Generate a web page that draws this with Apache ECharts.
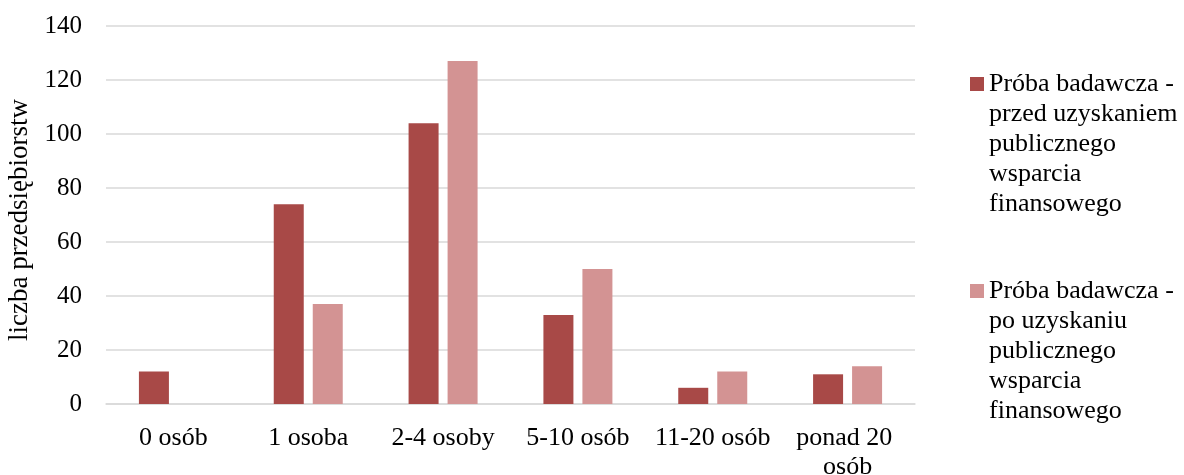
<!DOCTYPE html>
<html>
<head>
<meta charset="utf-8">
<script src="https://cdn.jsdelivr.net/npm/echarts@6/dist/echarts.min.js"></script>
<style>
  html, body { margin: 0; padding: 0; background: #ffffff; }
  #chart { width: 1184px; height: 475px; }
</style>
</head>
<body>
<div id="chart"></div>
<script>
// Firm size categories (number of employees)
const categories = ['0 osób', '1 osoba', '2-4 osoby', '5-10 osób', '11-20 osób', 'ponad 20 osób'];

// Number of enterprises before and after public financial support
const beforeSupport = [12, 74, 104, 33, 6, 11];
const afterSupport = [0, 37, 127, 50, 12, 14];

const seriesNames = [
  'Próba badawcza - przed uzyskaniem publicznego wsparcia finansowego',
  'Próba badawcza - po uzyskaniu publicznego wsparcia finansowego'
];

// Wrapped legend lines for each series
const legendLines = {
  [seriesNames[0]]: ['Próba badawcza -', 'przed uzyskaniem', 'publicznego', 'wsparcia', 'finansowego'],
  [seriesNames[1]]: ['Próba badawcza -', 'po uzyskaniu', 'publicznego', 'wsparcia', 'finansowego']
};

const yTicks = { min: 0, max: 140, interval: 20 };

const FONT = '"Liberation Serif", "Times New Roman", serif';
const TEXT_COLOR = '#000000';
const GRID_COLOR = '#d9d9d9';
const LINE_H = 30;

const chart = echarts.init(document.getElementById('chart'), null, { renderer: 'canvas' });

// The legend marker sits at the vertical middle of the text block; blank lines
// before the text put the marker level with the first line.
function legendFormatter(name) {
  const lines = legendLines[name];
  const pad = new Array(lines.length - 1).fill('');
  return pad.concat(lines).join('\n');
}

function legendFor(name, markerCenterY) {
  const lines = legendLines[name];
  const blockH = (lines.length * 2 - 1) * LINE_H;
  return {
    data: [name],
    left: 970,
    top: markerCenterY - blockH / 2,
    icon: 'rect',
    itemWidth: 14,
    itemHeight: 14,
    itemGap: 0,
    padding: 0,
    formatter: legendFormatter,
    textStyle: { fontFamily: FONT, fontSize: 26, lineHeight: LINE_H, color: TEXT_COLOR },
    selectedMode: false
  };
}

chart.setOption({
  backgroundColor: '#ffffff',
  animation: false,
  textStyle: { fontFamily: FONT },
  grid: { left: 106, right: 269, top: 26, bottom: 71, containLabel: false, outerBoundsMode: 'none' },
  legend: [legendFor(seriesNames[0], 84), legendFor(seriesNames[1], 291)],
  xAxis: {
    type: 'category',
    data: categories,
    axisLine: { show: true, lineStyle: { color: GRID_COLOR, width: 1.5 } },
    axisTick: { show: false },
    axisLabel: {
      fontFamily: FONT,
      fontSize: 26,
      lineHeight: 29,
      color: TEXT_COLOR,
      margin: 20,
      interval: 0,
      width: 132,
      overflow: 'break'
    }
  },
  yAxis: {
    type: 'value',
    min: yTicks.min,
    max: yTicks.max,
    interval: yTicks.interval,
    name: 'liczba przedsiębiorstw',
    nameLocation: 'middle',
    nameGap: 70,
    nameTextStyle: { fontFamily: FONT, fontSize: 27, color: TEXT_COLOR, padding: [0, 10, 0, 0] },
    axisLine: { show: false },
    axisTick: { show: false },
    axisLabel: { fontFamily: FONT, fontSize: 25, color: TEXT_COLOR, margin: 24 },
    splitLine: { show: true, lineStyle: { color: GRID_COLOR, width: 1.5 } }
  },
  series: [
    {
      name: seriesNames[0],
      type: 'bar',
      data: beforeSupport,
      barWidth: 30,
      barGap: '30%',
      itemStyle: { color: '#a84947' }
    },
    {
      name: seriesNames[1],
      type: 'bar',
      data: afterSupport,
      barWidth: 30,
      barGap: '30%',
      itemStyle: { color: '#d39393' }
    }
  ]
});
</script>
</body>
</html>
